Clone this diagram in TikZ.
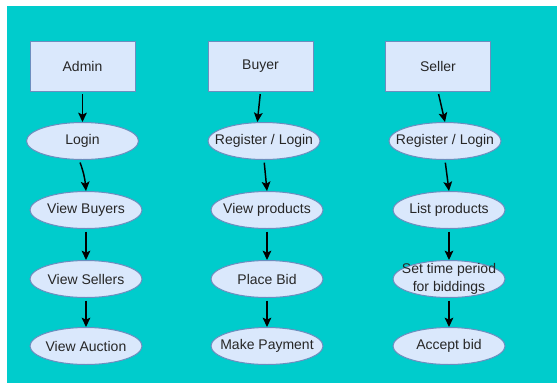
\documentclass[tikz,border=0pt]{standalone}
\usepackage{fontspec}
\setmainfont{Liberation Sans}
\usetikzlibrary{arrows.meta,shapes.geometric}
\definecolor{bgcyan}{HTML}{00CCCC}
\definecolor{boxfill}{HTML}{DAE8FC}
\definecolor{boxline}{HTML}{6C8EBF}
\tikzset{
  actor/.style={draw=boxline, fill=boxfill, line width=.75pt, minimum width=78.75pt,
    minimum height=37.5pt, inner sep=0pt, text=black!85, font=\fontsize{10.5}{12}\selectfont},
  task/.style={ellipse, draw=boxline, fill=boxfill, line width=.75pt, minimum width=84pt,
    minimum height=27.75pt, inner sep=0pt,
    label={[align=center, text=black!85, font=\fontsize{10.5}{13.5}\selectfont]center:#1}},
  flow/.style={-{Stealth[length=7pt,width=6.5pt,inset=1.5pt]}, line width=1.1pt, shorten <=2pt}
}
\begin{document}
\begin{tikzpicture}[x=.75pt, y=-.75pt]
      \useasboundingbox (0,0) rectangle (557,383);
      \fill[bgcyan] (7,6) rectangle (557,383);
      % admin column
      \node[actor] (admin) at (82.5,66) {Admin};
      \node[task=Login] (alogin) at (82.5,141) {};
      \node[task=View Buyers] (vbuyers) at (86,210) {};
      \node[task=View Sellers] (vsellers) at (86,279) {};
      \node[task=View Auction] (vauction) at (86,346) {};
      % buyer column
      \node[actor] (buyer) at (260.5,66) {Buyer};
      \node[task=Register / Login] (breg) at (264,141) {};
      \node[task=View products] (vproducts) at (267,210) {};
      \node[task=Place Bid] (pbid) at (267,279) {};
      \node[task=Make Payment] (mpay) at (267,346) {};
      % seller column
      \node[actor] (seller) at (438,66) {Seller};
      \node[task=Register / Login] (sreg) at (445,141) {};
      \node[task=List products] (lproducts) at (449,210) {};
      \node[task={Set time period\\for biddings}] (stime) at (449,279) {};
      \node[task=Accept bid] (abid) at (449,346) {};

      \draw[flow] (admin) -- (alogin);
      \draw[flow] ([xshift=-2.5pt]alogin.south) to[out=-70,in=95] (vbuyers.north);
      \draw[flow] (vbuyers) -- (vsellers);
      \draw[flow] (vsellers) -- (vauction);
      \draw[flow] (buyer.south) -- ([xshift=-5pt]breg.north);
      \draw[flow] (breg.south) -- (vproducts.north);
      \draw[flow] (vproducts) -- (pbid);
      \draw[flow] (pbid) -- (mpay);
      \draw[flow] (seller.south) -- (sreg.north);
      \draw[flow] (sreg.south) -- (lproducts.north);
      \draw[flow] (lproducts) -- (stime);
      \draw[flow] (stime) -- (abid);
    \end{tikzpicture}
\end{document}
